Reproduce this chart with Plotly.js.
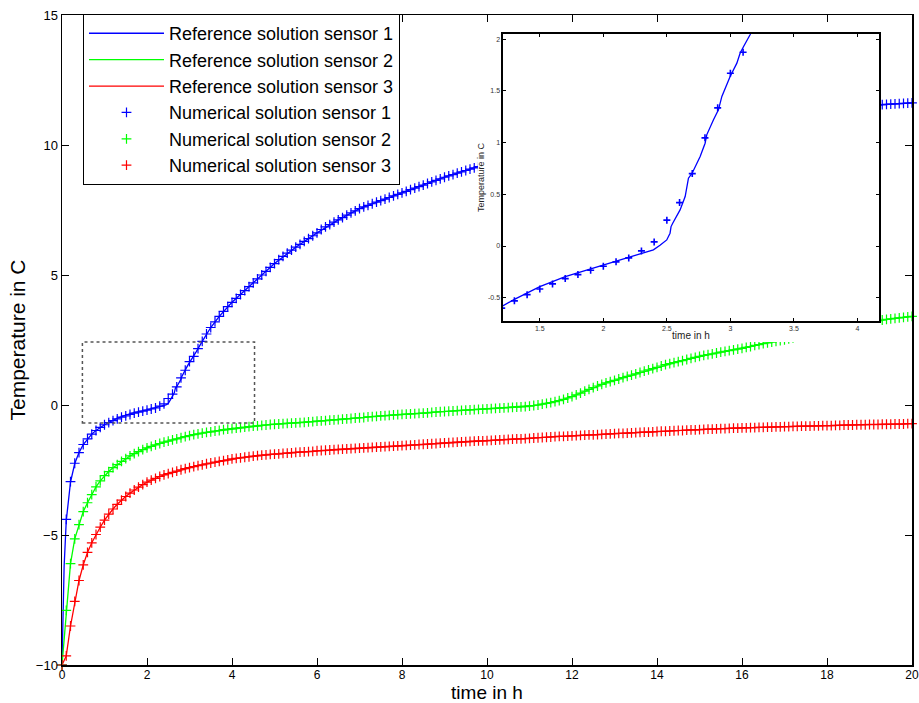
<!DOCTYPE html>
<html>
<head>
<meta charset="utf-8">
<script src="https://cdn.plot.ly/plotly-3.0.1.min.js"></script>
<style>html,body{margin:0;padding:0;background:#fff;}#chart{width:919px;height:703px;}</style>
</head>
<body>
<div id="chart"></div>
<script>
// ---- Data ----
// Numerical solutions: sampled every 0.1 h from 0 to 20 h
const numStart = 0;
const numStep = 0.1;
const numSensor1 = [
-10,-4.4,-2.95,-2.24,-1.83,-1.52,-1.3,-1.12,-0.98,-0.86,
-0.76,-0.68,-0.6,-0.53,-0.47,-0.415,-0.366,-0.315,-0.276,-0.234,
-0.195,-0.153,-0.115,-0.047,0.04,0.25,0.42,0.7,1.046,1.336,
1.671,1.874,2.17,2.45,2.73,2.98,3.2,3.41,3.6,3.78,
3.95,4.1,4.25,4.4,4.55,4.7,4.85,5.0,5.14,5.29,
5.44,5.59,5.72,5.84,5.96,6.07,6.18,6.29,6.4,6.51,
6.62,6.75,6.85,6.94,7.03,7.12,7.21,7.3,7.39,7.47,
7.55,7.62,7.68,7.74,7.8,7.86,7.92,7.98,8.04,8.1,
8.16,8.22,8.28,8.34,8.4,8.46,8.52,8.58,8.64,8.7,
8.76,8.81,8.86,8.92,8.97,9.02,9.07,9.12,9.17,9.22,
9.27,9.32,9.37,9.42,9.46,9.51,9.55,9.6,9.64,9.68,
9.72,9.76,9.8,9.84,9.88,9.92,9.96,10.0,10.04,10.08,
10.12,10.15,10.18,10.21,10.24,10.27,10.3,10.33,10.36,10.39,
10.42,10.45,10.48,10.51,10.54,10.57,10.6,10.62,10.64,10.66,
10.68,10.7,10.72,10.74,10.76,10.78,10.8,10.82,10.84,10.86,
10.88,10.9,10.92,10.94,10.96,10.98,11.0,11.02,11.04,11.06,
11.08,11.1,11.11,11.13,11.14,11.16,11.17,11.19,11.2,11.22,
11.23,11.25,11.26,11.28,11.29,11.31,11.32,11.34,11.35,11.37,
11.38,11.4,11.41,11.43,11.44,11.46,11.47,11.49,11.5,11.51,
11.52,11.53,11.54,11.55,11.56,11.57,11.58,11.59,11.6,11.61,
11.62];
const numSensor2 = [
-10,-7.9,-6.1,-5.15,-4.6,-4.1,-3.76,-3.45,-3.15,-2.92,
-2.72,-2.56,-2.41,-2.29,-2.17,-2.06,-1.96,-1.87,-1.79,-1.72,
-1.65,-1.59,-1.53,-1.48,-1.43,-1.39,-1.34,-1.3,-1.26,-1.22,
-1.18,-1.14,-1.11,-1.08,-1.05,-1.03,-1.0,-0.98,-0.95,-0.93,
-0.91,-0.89,-0.87,-0.85,-0.83,-0.81,-0.8,-0.78,-0.77,-0.75,
-0.74,-0.73,-0.72,-0.71,-0.7,-0.69,-0.68,-0.67,-0.65,-0.64,
-0.62,-0.61,-0.6,-0.58,-0.57,-0.56,-0.54,-0.53,-0.52,-0.5,
-0.49,-0.48,-0.46,-0.45,-0.44,-0.42,-0.41,-0.4,-0.38,-0.37,
-0.36,-0.35,-0.34,-0.33,-0.32,-0.31,-0.3,-0.28,-0.27,-0.26,
-0.25,-0.24,-0.23,-0.22,-0.21,-0.2,-0.19,-0.18,-0.17,-0.16,
-0.15,-0.14,-0.13,-0.12,-0.11,-0.1,-0.09,-0.08,-0.07,-0.06,
-0.04,-0.02,0.0,0.03,0.06,0.09,0.13,0.17,0.22,0.27,
0.32,0.39,0.46,0.53,0.6,0.67,0.73,0.79,0.85,0.9,
0.95,1.0,1.05,1.1,1.15,1.2,1.25,1.3,1.35,1.4,
1.45,1.5,1.55,1.59,1.63,1.67,1.71,1.75,1.79,1.83,
1.87,1.91,1.94,1.97,2.0,2.03,2.06,2.09,2.12,2.15,
2.18,2.22,2.25,2.29,2.32,2.36,2.39,2.42,2.45,2.48,
2.51,2.54,2.58,2.61,2.64,2.68,2.71,2.74,2.78,2.81,
2.84,2.88,2.91,2.94,2.98,3.01,3.04,3.08,3.11,3.14,
3.18,3.21,3.24,3.27,3.29,3.31,3.33,3.35,3.37,3.39,
3.41];
const numSensor3 = [
-10,-9.65,-8.5,-7.55,-6.75,-6.15,-5.67,-5.3,-4.98,-4.7,
-4.43,-4.2,-4.0,-3.82,-3.66,-3.52,-3.39,-3.27,-3.16,-3.06,
-2.97,-2.89,-2.82,-2.75,-2.69,-2.64,-2.59,-2.54,-2.49,-2.45,
-2.41,-2.37,-2.33,-2.3,-2.26,-2.23,-2.2,-2.17,-2.14,-2.11,
-2.07,-2.05,-2.03,-2.01,-1.99,-1.97,-1.95,-1.93,-1.92,-1.9,
-1.89,-1.88,-1.86,-1.85,-1.84,-1.82,-1.81,-1.8,-1.79,-1.78,
-1.76,-1.75,-1.74,-1.73,-1.72,-1.71,-1.7,-1.69,-1.68,-1.67,
-1.66,-1.65,-1.64,-1.63,-1.62,-1.61,-1.6,-1.59,-1.58,-1.57,
-1.56,-1.55,-1.54,-1.53,-1.52,-1.51,-1.5,-1.49,-1.48,-1.47,
-1.46,-1.45,-1.44,-1.43,-1.42,-1.41,-1.4,-1.39,-1.38,-1.38,
-1.37,-1.36,-1.35,-1.34,-1.33,-1.32,-1.31,-1.3,-1.3,-1.29,
-1.28,-1.27,-1.26,-1.25,-1.24,-1.23,-1.22,-1.21,-1.21,-1.2,
-1.19,-1.18,-1.17,-1.16,-1.15,-1.15,-1.14,-1.13,-1.12,-1.11,
-1.1,-1.09,-1.09,-1.08,-1.07,-1.06,-1.05,-1.04,-1.04,-1.03,
-1.02,-1.01,-1.01,-1.0,-0.99,-0.98,-0.98,-0.97,-0.96,-0.96,
-0.95,-0.94,-0.93,-0.93,-0.92,-0.91,-0.91,-0.9,-0.89,-0.89,
-0.88,-0.88,-0.87,-0.87,-0.86,-0.86,-0.85,-0.85,-0.84,-0.84,
-0.83,-0.83,-0.82,-0.82,-0.81,-0.81,-0.81,-0.8,-0.8,-0.79,
-0.79,-0.79,-0.78,-0.78,-0.77,-0.77,-0.77,-0.76,-0.76,-0.76,
-0.75,-0.75,-0.75,-0.74,-0.74,-0.74,-0.73,-0.73,-0.73,-0.72,
-0.72];

// Reference solution, sensor 1 (read with extra detail around the phase-change kink)
const refTime1 = [0,0.02,0.05,0.1,0.15,0.2,0.3,0.4,0.5,0.6,0.7,0.8,0.9,1.0,1.1,1.208,1.3,1.5,1.7,2.0,
  2.199,2.394,2.446,2.499,2.525,2.533,2.546,2.604,2.644,2.662,2.67,2.699,2.762,2.801,2.814,2.867,2.906,2.933,2.959,2.998,
  3.051,3.077,3.104,3.156,3.3,3.5,3.7,4.0,4.5,5,5.5,6,6.5,7,7.5,8,8.5,9,9.5,10,11,12,13,14,15,16,17,18,19,20];
const refTemp1 = [-10,-8.2,-6.2,-4.45,-3.55,-2.97,-2.25,-1.83,-1.52,-1.3,-1.12,-0.98,-0.86,-0.76,-0.67,-0.579,-0.515,-0.392,-0.295,-0.183,
  -0.108,-0.037,0.008,0.059,0.124,0.188,0.22,0.349,0.478,0.607,0.656,0.704,0.865,0.994,1.075,1.22,1.317,1.446,1.526,1.639,
  1.768,1.865,1.929,2.045,2.45,2.98,3.41,3.95,4.7,5.44,6.07,6.62,7.12,7.55,7.86,8.16,8.46,8.76,9.02,9.27,9.72,10.12,10.42,10.68,10.88,11.08,11.23,11.38,11.52,11.62];
// Reference solutions, sensors 2 and 3 (coincide with the numerical samples)
const refSensor2 = numSensor2;
const refSensor3 = numSensor3;

const legendNames = ["Reference solution sensor 1","Reference solution sensor 2","Reference solution sensor 3",
  "Numerical solution sensor 1","Numerical solution sensor 2","Numerical solution sensor 3"];
const sensorColors = ["#0000ff","#00ff00","#ff0000"];

// ---- Traces ----
const FONT = "Liberation Sans, Arial, Helvetica, sans-serif";
const traces = [
  {x: refTime1, y: refTemp1, mode: "lines", name: legendNames[0], line: {color: sensorColors[0], width: 1.3}},
  {x0: numStart, dx: numStep, y: refSensor2, mode: "lines", name: legendNames[1], line: {color: sensorColors[1], width: 1.3}},
  {x0: numStart, dx: numStep, y: refSensor3, mode: "lines", name: legendNames[2], line: {color: sensorColors[2], width: 1.3}},
  {x0: numStart, dx: numStep, y: numSensor1, mode: "markers", name: legendNames[3], cliponaxis: false,
   marker: {symbol: "cross-thin", size: 7, line: {color: sensorColors[0], width: 1.2}}},
  {x0: numStart, dx: numStep, y: numSensor2, mode: "markers", name: legendNames[4], cliponaxis: false,
   marker: {symbol: "cross-thin", size: 7, line: {color: sensorColors[1], width: 1.2}}},
  {x0: numStart, dx: numStep, y: numSensor3, mode: "markers", name: legendNames[5], cliponaxis: false,
   marker: {symbol: "cross-thin", size: 7, line: {color: sensorColors[2], width: 1.2}}},
  // white cover subplot behind the inset (no data)
  {x: [], y: [], xaxis: "x2", yaxis: "y2", mode: "markers", showlegend: false, hoverinfo: "skip"},
  // inset: zoom on sensor 1
  {x: refTime1, y: refTemp1, xaxis: "x3", yaxis: "y3", mode: "lines", showlegend: false,
   line: {color: sensorColors[0], width: 1.3}},
  {x0: numStart, dx: numStep, y: numSensor1, xaxis: "x3", yaxis: "y3", mode: "markers", showlegend: false,
   marker: {symbol: "cross-thin", size: 5, line: {color: sensorColors[0], width: 1.6}}}
];

const layout = {
  width: 919, height: 703,
  margin: {l: 62, r: 7, t: 15, b: 38, pad: 0},
  paper_bgcolor: "#ffffff", plot_bgcolor: "#ffffff",
  font: {family: FONT, color: "#000000", size: 13},
  showlegend: true,
  legend: {
    x: 0.0247, y: 1.0015, xanchor: "left", yanchor: "top",
    bgcolor: "#ffffff", bordercolor: "#000000", borderwidth: 1,
    font: {family: FONT, size: 18, color: "#000000"},
    itemwidth: 75, tracegroupgap: 0
  },
  xaxis: {
    domain: [0, 1], range: [0, 20], dtick: 2, tick0: 0,
    showline: true, linecolor: "#000000", linewidth: 1.5, mirror: "ticks",
    ticks: "inside", ticklen: 7, tickwidth: 1, tickcolor: "#000000",
    showgrid: false, zeroline: false, ticklabeloverflow: "allow", ticklabelstandoff: -2,
    tickfont: {family: FONT, size: 12},
    title: {text: "time in h", font: {family: FONT, size: 19}}
  },
  yaxis: {
    domain: [0, 1], range: [-10, 15], dtick: 5, tick0: 0,
    showline: true, linecolor: "#000000", linewidth: 1.5, mirror: "ticks",
    ticks: "inside", ticklen: 7, tickwidth: 1, tickcolor: "#000000",
    showgrid: false, zeroline: false, ticklabeloverflow: "allow",
    tickfont: {family: FONT, size: 13},
    title: {text: "Temperature in C", font: {family: FONT, size: 21}, standoff: 4}
  },
  xaxis2: {domain: [0.4894, 0.9635], range: [0, 1], anchor: "y2", visible: false, fixedrange: true},
  yaxis2: {domain: [0.4969, 0.9877], range: [0, 1], anchor: "x2", visible: false, fixedrange: true},
  xaxis3: {
    domain: [0.5188, 0.9612], range: [1.21, 4.17], anchor: "y3",
    tickvals: [1.5, 2, 2.5, 3, 3.5, 4], ticktext: ["1.5", "2", "2.5", "3", "3.5", "4"],
    showline: true, linecolor: "#000000", linewidth: 1.5, mirror: "ticks",
    ticks: "inside", ticklen: 3, tickwidth: 1, tickcolor: "#000000",
    showgrid: false, zeroline: false,
    tickfont: {family: FONT, size: 7, color: "#333333"},
    title: {text: "time in h", font: {family: FONT, size: 10, color: "#222222"}, standoff: 1}
  },
  yaxis3: {
    domain: [0.5292, 0.9708], range: [-0.725, 2.05], anchor: "x3",
    tickvals: [-0.5, 0, 0.5, 1, 1.5, 2], ticktext: ["-0.5", "0", "0.5", "1", "1.5", "2"],
    showline: true, linecolor: "#000000", linewidth: 1.5, mirror: "ticks",
    ticks: "inside", ticklen: 3, tickwidth: 1, tickcolor: "#000000",
    showgrid: false, zeroline: false,
    tickfont: {family: FONT, size: 7, color: "#333333"},
    title: {text: "Temperature in C", font: {family: FONT, size: 9, color: "#222222"}, standoff: 2}
  },
  shapes: [
    {type: "rect", xref: "x", yref: "y", x0: 0.48, x1: 4.53, y0: -0.69, y1: 2.42,
     line: {color: "#555555", width: 1.5, dash: "dot"}, fillcolor: "rgba(0,0,0,0)"}
  ]
};

Plotly.newPlot("chart", traces, layout, {displayModeBar: false, staticPlot: true});
</script>
</body>
</html>
